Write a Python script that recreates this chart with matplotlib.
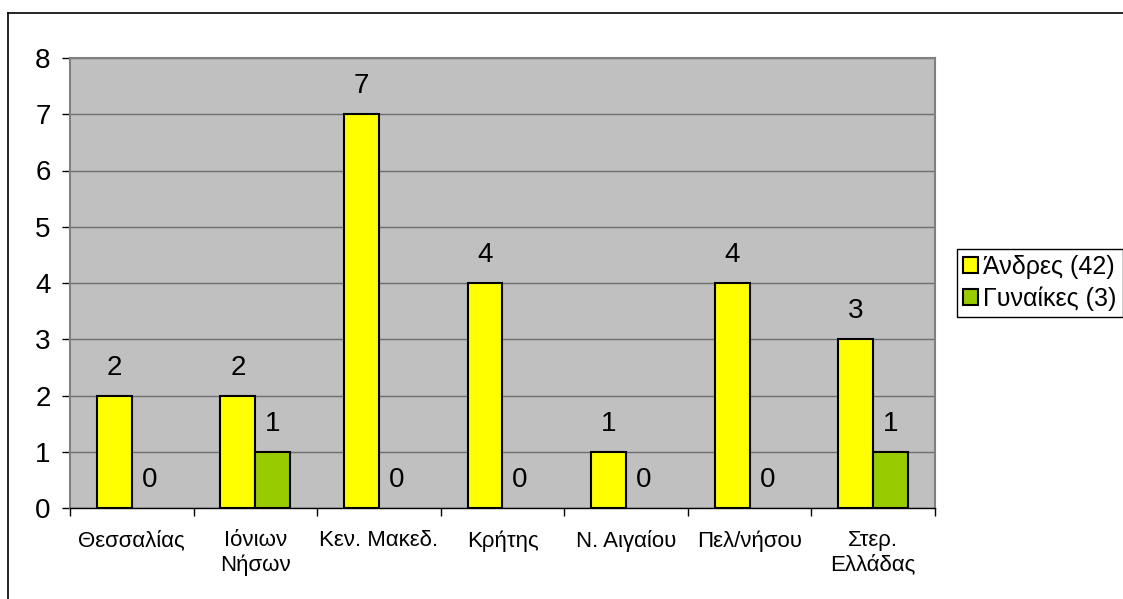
import numpy as np
import matplotlib.pyplot as plt
from matplotlib.lines import Line2D

plt.rcParams['font.family'] = ['Liberation Sans', 'DejaVu Sans']

regions = ['Θεσσαλίας', 'Ιόνιων\nΝήσων', 'Κεν. Μακεδ.', 'Κρήτης',
           'Ν. Αιγαίου', 'Πελ/νήσου', 'Στερ.\nΕλλάδας']
men = [2, 2, 7, 4, 1, 4, 3]
women = [0, 1, 0, 0, 0, 0, 1]
series_names = ['Άνδρες (42)', 'Γυναίκες (3)']

fig = plt.figure(figsize=(11.23, 5.99), dpi=100)
ax = fig.add_axes([70 / 1123, 91 / 599, 865 / 1123, 450 / 599])

x = np.arange(len(regions))
w = 0.283
b1 = ax.bar(x - w / 2, men, w, color='#FFFF00', edgecolor='black', linewidth=1.5,
            label=series_names[0], zorder=3)
b2 = ax.bar(x + w / 2, women, w, color='#99CC00', edgecolor='black', linewidth=1.5,
            label=series_names[1], zorder=3)

ax.set_facecolor('#C0C0C0')
ax.set_xlim(-0.5, len(regions) - 0.5)
ax.set_ylim(0, 8)
ax.set_yticks(range(9))
ax.yaxis.grid(True, color='#6E6E6E', linewidth=1, zorder=0)
ax.tick_params(axis='y', labelsize=20, length=6, width=1, color='black', pad=8)

ax.set_xticks(x)
ax.set_xticklabels(regions, fontsize=16, linespacing=1.2)
ax.set_xticks(np.arange(-0.5, len(regions)), minor=True)
ax.tick_params(axis='x', which='major', length=0, pad=16)
ax.tick_params(axis='x', which='minor', length=6, width=1, color='black')

for side in ('left', 'top', 'right'):
    ax.spines[side].set_color('#808080')
    ax.spines[side].set_linewidth(1.5)
ax.spines['bottom'].set_color('black')
ax.spines['bottom'].set_linewidth(1)
ax.spines['bottom'].set_zorder(4)

leg = ax.legend(loc='center left', bbox_to_anchor=(1.025, 0.5), fontsize=18,
                frameon=True, fancybox=False, edgecolor='black', framealpha=1,
                handlelength=0.6, handleheight=0.6, handletextpad=0.2,
                borderpad=0.25, labelspacing=0.3, borderaxespad=0)
leg.get_frame().set_linewidth(1)

# value labels; empty bars lose their outline (after the legend copied the style)
for bars in (b1, b2):
    for r in bars:
        if r.get_height() == 0:
            r.set_linewidth(0)
        ax.annotate(f'{int(r.get_height())}', (r.get_x() + r.get_width() / 2, r.get_height()),
                    xytext=(0, 20), textcoords='offset points', ha='center', va='center',
                    fontsize=20)

# outer chart frame
fig.add_artist(Line2D([8 / 1123, 8 / 1123], [0, 1 - 13 / 599], color='black', lw=1.2,
                      transform=fig.transFigure))
fig.add_artist(Line2D([8 / 1123, 1], [1 - 13 / 599, 1 - 13 / 599], color='black', lw=1.2,
                      transform=fig.transFigure))

fig.savefig('out.png', dpi=100)
